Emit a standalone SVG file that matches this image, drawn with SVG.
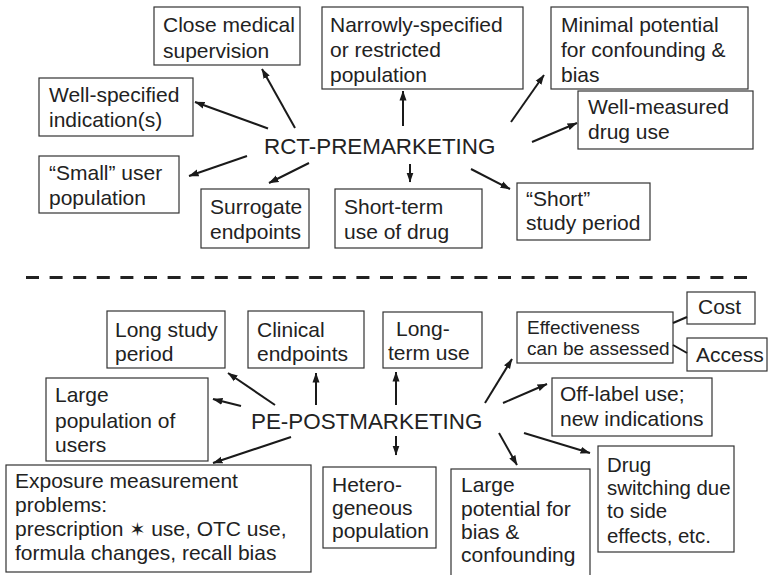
<svg xmlns="http://www.w3.org/2000/svg" width="768" height="575" viewBox="0 0 768 575">
  <defs>
    <marker id="arrow" markerUnits="userSpaceOnUse" markerWidth="10" markerHeight="8" refX="9.5" refY="4" orient="auto">
      <path d="M0,0.5 L10,4 L0,7.5 z" fill="#1a1a1a"/>
    </marker>
    <style>
      rect.box { fill: #ffffff; stroke: #333333; stroke-width: 1.2; }
      text { font-family: "Liberation Sans", Arial, Helvetica, sans-serif; fill: #222222; }
      text.t { font-size: 21px; }
      text.n { font-size: 20.4px; }
      text.s { font-size: 19px; }
      text.hub { font-size: 22.4px; }
      .conn line { stroke: #1a1a1a; stroke-width: 2; }
      .conn line.arr { marker-end: url(#arrow); }
      .divider { stroke: #222222; stroke-width: 3; stroke-dasharray: 13 10.6; fill: none; }
    </style>
  </defs>
  <rect width="768" height="575" fill="#ffffff"/>

  <!-- upper half: premarketing trials -->
  <g id="rct-hub"><text class="hub" x="264" y="153.5">RCT-PREMARKETING</text></g>

  <g id="close-medical">
    <rect class="box" x="154" y="7" width="146" height="58"/>
    <text class="t" x="163" y="32">Close medical</text>
    <text class="t" x="163" y="57.5">supervision</text>
  </g>
  <g id="narrowly-specified">
    <rect class="box" x="322" y="7" width="201" height="82"/>
    <text class="t" x="330" y="32">Narrowly-specified</text>
    <text class="t" x="330" y="57">or restricted</text>
    <text class="t" x="330" y="82">population</text>
  </g>
  <g id="minimal-potential">
    <rect class="box" x="551" y="7" width="197" height="82"/>
    <text class="t" x="561" y="32">Minimal potential</text>
    <text class="t" x="561" y="57">for confounding &amp;</text>
    <text class="t" x="561" y="82">bias</text>
  </g>
  <g id="well-measured">
    <rect class="box" x="578" y="91" width="175" height="58"/>
    <text class="t" x="588" y="114">Well-measured</text>
    <text class="t" x="588" y="138.5">drug use</text>
  </g>
  <g id="well-specified">
    <rect class="box" x="39" y="78" width="154" height="58"/>
    <text class="t" x="49" y="102">Well-specified</text>
    <text class="t" x="49" y="127">indication(s)</text>
  </g>
  <g id="small-population">
    <rect class="box" x="39" y="156" width="140" height="57"/>
    <text class="t" x="49" y="180">“Small” user</text>
    <text class="t" x="49" y="205">population</text>
  </g>
  <g id="surrogate">
    <rect class="box" x="201" y="189" width="108" height="59"/>
    <text class="t" x="210" y="214">Surrogate</text>
    <text class="t" x="210" y="239">endpoints</text>
  </g>
  <g id="short-term">
    <rect class="box" x="335" y="189" width="147" height="59"/>
    <text class="t" x="344" y="214">Short-term</text>
    <text class="t" x="344" y="239">use of drug</text>
  </g>
  <g id="short-period">
    <rect class="box" x="517" y="183" width="133" height="57"/>
    <text class="t" x="526" y="205.5">“Short”</text>
    <text class="t" x="526" y="230">study period</text>
  </g>

  <!-- divider between the two halves -->
  <line class="divider" x1="26" y1="277.5" x2="748" y2="277.5"/>

  <!-- lower half: postmarketing studies -->
  <g id="pe-hub"><text class="hub" x="251" y="428.5">PE-POSTMARKETING</text></g>

  <g id="long-study">
    <rect class="box" x="107" y="311" width="118" height="57"/>
    <text class="t" x="115" y="337">Long study</text>
    <text class="t" x="115" y="361">period</text>
  </g>
  <g id="clinical">
    <rect class="box" x="248" y="311" width="116" height="57"/>
    <text class="t" x="257" y="337">Clinical</text>
    <text class="t" x="257" y="361">endpoints</text>
  </g>
  <g id="long-term">
    <rect class="box" x="383" y="312" width="99" height="56"/>
    <text class="t" x="396" y="336">Long-</text>
    <text class="t" x="388" y="359.5">term use</text>
  </g>
  <g id="effectiveness">
    <rect class="box" x="517" y="312" width="156" height="51"/>
    <text class="s" x="527" y="333.5">Effectiveness</text>
    <text class="s" x="527" y="355">can be assessed</text>
  </g>
  <g id="cost">
    <rect class="box" x="687" y="292" width="68" height="32"/>
    <text class="t" x="698" y="314">Cost</text>
  </g>
  <g id="access">
    <rect class="box" x="687" y="338" width="80" height="33"/>
    <text class="t" x="696" y="362">Access</text>
  </g>
  <g id="off-label">
    <rect class="box" x="552" y="378" width="160" height="58"/>
    <text class="t" x="560" y="401">Off-label use;</text>
    <text class="t" x="560" y="426">new indications</text>
  </g>
  <g id="large-population">
    <rect class="box" x="46" y="378" width="162" height="83"/>
    <text class="t" x="55" y="402">Large</text>
    <text class="t" x="55" y="427.5">population of</text>
    <text class="t" x="55" y="452">users</text>
  </g>
  <g id="exposure">
    <rect class="box" x="6" y="465" width="305" height="107"/>
    <text class="t" x="15" y="488">Exposure measurement</text>
    <text class="t" x="15" y="512">problems:</text>
    <text class="t" x="15" y="536">prescription <tspan font-family="'DejaVu Sans', sans-serif" font-size="19">✶</tspan> use, OTC use,</text>
    <text class="t" x="15" y="560">formula changes, recall bias</text>
  </g>
  <g id="heterogeneous">
    <rect class="box" x="323" y="467" width="113" height="81"/>
    <text class="t" x="332" y="492">Hetero-</text>
    <text class="t" x="332" y="515">geneous</text>
    <text class="t" x="332" y="538">population</text>
  </g>
  <g id="large-potential">
    <rect class="box" x="451" y="469" width="139" height="112"/>
    <text class="t" x="461" y="492">Large</text>
    <text class="t" x="461" y="516">potential for</text>
    <text class="t" x="461" y="539">bias &amp;</text>
    <text class="t" x="461" y="562">confounding</text>
  </g>
  <g id="drug-switching">
    <rect class="box" x="598" y="446" width="136" height="106"/>
    <text class="n" x="607" y="472">Drug</text>
    <text class="n" x="607" y="495">switching due</text>
    <text class="n" x="607" y="518">to side</text>
    <text class="n" x="607" y="543">effects, etc.</text>
  </g>

  <!-- connectors -->
  <g id="connectors" class="conn">
    <line class="arr" x1="295" y1="128" x2="262" y2="69"/>
    <line class="arr" x1="268" y1="128.5" x2="195" y2="102"/>
    <line class="arr" x1="247" y1="156" x2="189" y2="176"/>
    <line class="arr" x1="309" y1="163" x2="269" y2="183"/>
    <line class="arr" x1="403" y1="126" x2="403" y2="91"/>
    <line class="arr" x1="410" y1="164" x2="410" y2="182"/>
    <line class="arr" x1="511" y1="122" x2="544" y2="75"/>
    <line class="arr" x1="532" y1="142" x2="577" y2="123"/>
    <line class="arr" x1="471" y1="169" x2="510" y2="189"/>

    <line class="arr" x1="275" y1="405" x2="228" y2="373"/>
    <line class="arr" x1="316" y1="405" x2="316" y2="373"/>
    <line class="arr" x1="396" y1="405" x2="396" y2="372"/>
    <line class="arr" x1="241" y1="406" x2="213" y2="399"/>
    <line class="arr" x1="291" y1="437" x2="213" y2="463"/>
    <line class="arr" x1="396" y1="436" x2="396" y2="455"/>
    <line class="arr" x1="485" y1="403" x2="512" y2="359"/>
    <line class="arr" x1="503" y1="403" x2="547" y2="384"/>
    <line class="arr" x1="499" y1="433" x2="517" y2="465"/>
    <line class="arr" x1="524" y1="433" x2="590" y2="453"/>

    <line x1="673" y1="323" x2="687" y2="317"/>
    <line x1="673" y1="345" x2="687" y2="353"/>
  </g>
</svg>
